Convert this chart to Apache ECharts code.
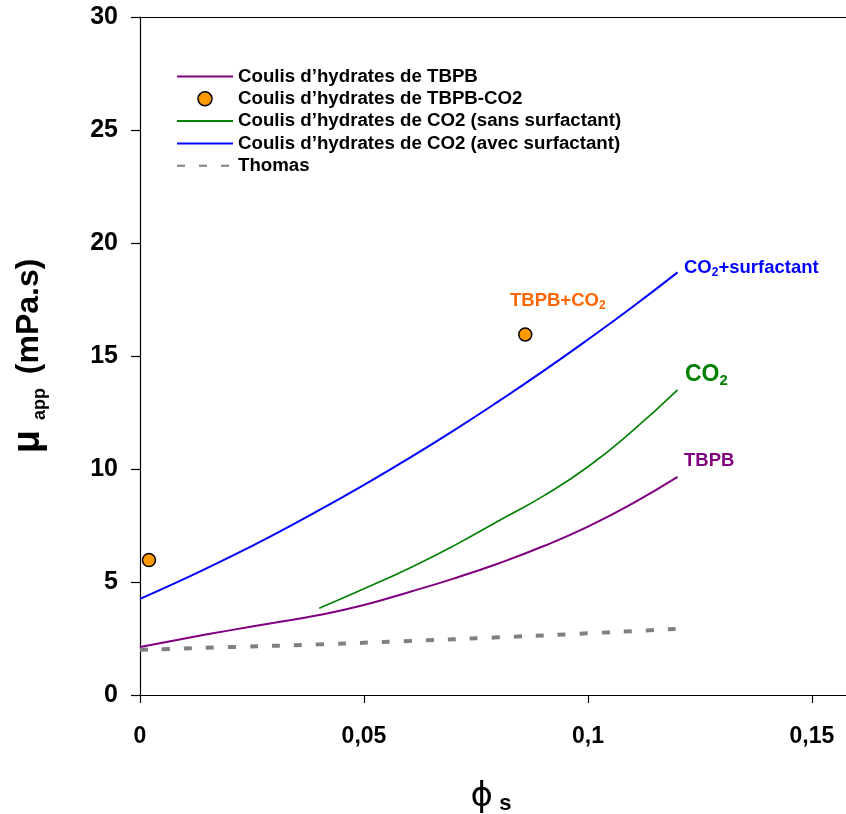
<!DOCTYPE html>
<html><head><meta charset="utf-8">
<script src="https://cdn.jsdelivr.net/npm/echarts@6/dist/echarts.min.js"></script>
<style>html,body{margin:0;padding:0;background:#fff}#c{width:846px;height:814px}</style>
</head><body><div id="c"></div>
<script>
// ---- data ----
const phi = [0, 0.01, 0.02, 0.03, 0.04, 0.05, 0.06, 0.07, 0.08, 0.09, 0.10, 0.11, 0.12];
const tbpb = [2.12, 2.50, 2.86, 3.20, 3.54, 3.98, 4.55, 5.15, 5.82, 6.58, 7.45, 8.48, 9.65];
const phiCO2 = [0.04, 0.05, 0.06, 0.07, 0.08, 0.09, 0.10, 0.11, 0.12];
const co2 = [3.84, 4.70, 5.60, 6.60, 7.70, 8.80, 10.10, 11.70, 13.50];
const co2Surf = [4.25, 5.15, 6.10, 7.11, 8.18, 9.30, 10.47, 11.70, 12.99, 14.33, 15.73, 17.18, 18.70];
const phiThomas = [0, 0.02, 0.04, 0.06, 0.08, 0.10, 0.12];
const thomas = [2.00, 2.12, 2.24, 2.39, 2.55, 2.73, 2.93];
const tbpbCO2Phi = [0.002, 0.086];
const tbpbCO2Mu = [5.97, 15.95];
const xTicks = [0, 0.05, 0.1, 0.15];
const yTicks = [0, 5, 10, 15, 20, 25, 30];
const names = ['Coulis d’hydrates de TBPB', 'Coulis d’hydrates de TBPB-CO2',
  'Coulis d’hydrates de CO2 (sans surfactant)', 'Coulis d’hydrates de CO2 (avec surfactant)', 'Thomas'];

const zip = (xs, ys) => xs.map((x, i) => [x, ys[i]]);
const FF = "'Liberation Sans', Arial, sans-serif";
const X_MAX = 0.1576;

const chart = echarts.init(document.getElementById('c'), null, {renderer: 'canvas'});

function subLabel(main1, sub, main2, color, size, x, y) {
  return {
    type: 'text', left: x, top: y, z: 100,
    style: {
      text: '{a|' + main1 + '}{b|' + sub + '}' + (main2 ? '{a|' + main2 + '}' : ''),
      rich: {
        a: {fontFamily: FF, fontWeight: 'bold', fontSize: size, fill: color, lineHeight: size * 1.2},
        b: {fontFamily: FF, fontWeight: 'bold', fontSize: size * 0.65, fill: color, verticalAlign: 'bottom'}
      }
    }
  };
}

chart.setOption({
  animation: false,
  backgroundColor: '#fff',
  grid: {left: 140, top: 17, right: 0, bottom: 119, show: false, containLabel: false},
  xAxis: [{
    type: 'value', min: 0, max: X_MAX,
    axisLine: {lineStyle: {color: '#000', width: 1.2}},
    axisTick: {show: true, inside: false, length: 8, lineStyle: {color: '#000', width: 1.2},
      customValues: xTicks},
    axisLabel: {margin: 30, fontFamily: FF, fontWeight: 'bold', fontSize: 23, color: '#000',
      customValues: xTicks,
      formatter: v => String(Math.round(v * 100) / 100).replace('.', ',')},
    splitLine: {show: false}
  }, {
    type: 'value', min: 0, max: X_MAX, position: 'top',
    axisLine: {show: true, lineStyle: {color: '#000', width: 1.2}},
    axisTick: {show: false}, axisLabel: {show: false}, splitLine: {show: false}
  }],
  yAxis: {
    type: 'value', min: 0, max: 30, interval: 5,
    axisLine: {show: true, lineStyle: {color: '#000', width: 1.2}},
    axisTick: {show: true, inside: false, length: 9, lineStyle: {color: '#000', width: 1.2}},
    axisLabel: {margin: 22, fontFamily: FF, fontWeight: 'bold', fontSize: 25, color: '#000'},
    splitLine: {show: false}
  },
  legend: {
    orient: 'vertical', left: 176, top: 67, padding: 0, itemWidth: 56, itemHeight: 14, itemGap: 3.3,
    itemStyle: {opacity: 0},
    data: [
      {name: names[0]},
      {name: names[1], itemStyle: {opacity: 1, color: '#FF9900', borderColor: '#000', borderWidth: 1.5}},
      {name: names[2]},
      {name: names[3]},
      {name: names[4]}
    ],
    textStyle: {fontFamily: FF, fontWeight: 'bold', fontSize: 18.7, color: '#000'},
    selectedMode: false
  },
  series: [
    {name: names[0], type: 'line', data: zip(phi, tbpb), smooth: true, symbol: 'none',
      lineStyle: {color: '#800080', width: 2}, itemStyle: {color: '#800080'}, z: 3},
    {name: names[2], type: 'line', data: zip(phiCO2, co2), smooth: true, symbol: 'none',
      lineStyle: {color: '#008000', width: 1.6}, itemStyle: {color: '#008000'}, z: 3},
    {name: names[3], type: 'line', data: zip(phi, co2Surf), smooth: true, symbol: 'none',
      lineStyle: {color: '#0000FF', width: 2}, itemStyle: {color: '#0000FF'}, z: 3},
    {name: names[4], type: 'line', data: zip(phiThomas, thomas), smooth: true, symbol: 'none',
      lineStyle: {color: '#808080', width: 4, type: [8, 14]}, itemStyle: {color: '#808080'}, z: 2},
    {name: names[1], type: 'scatter', data: zip(tbpbCO2Phi, tbpbCO2Mu), symbol: 'circle', symbolSize: 13,
      itemStyle: {color: '#FF9900', borderColor: '#000', borderWidth: 1.5, opacity: 1}, z: 5}
  ],
  graphic: [
    subLabel('CO', '2', '+surfactant', '#0000FF', 18.5, 684, 258),
    subLabel('CO', '2', '', '#008000', 23, 685, 363),
    {type: 'text', left: 684, top: 451, z: 100,
      style: {text: 'TBPB', fontFamily: FF, fontWeight: 'bold', fontSize: 18.5, fill: '#800080'}},
    subLabel('TBPB+CO', '2', '', '#FF6600', 18.5, 510, 291),
    {type: 'text', x: 29, y: 356, rotation: Math.PI / 2, z: 100,
      style: {
        text: '{m|μ}{s|  app }{t| (mPa.s)}', align: 'center', verticalAlign: 'middle',
        rich: {
          m: {fontFamily: FF, fontWeight: 'bold', fontSize: 38, fill: '#000', lineHeight: 44},
          s: {fontFamily: FF, fontWeight: 'bold', fontSize: 18, fill: '#000', verticalAlign: 'bottom', padding: [0, 0, 2, 0]},
          t: {fontFamily: FF, fontWeight: 'bold', fontSize: 32, fill: '#000', lineHeight: 44}
        }
      }},
    {type: 'text', x: 491, y: 797, z: 100,
      style: {
        text: '{p|ϕ}{s| s}', align: 'center', verticalAlign: 'middle',
        rich: {
          p: {fontFamily: "'DejaVu Sans', sans-serif", fontSize: 34, fill: '#000', lineHeight: 40},
          s: {fontFamily: FF, fontWeight: 'bold', fontSize: 22, fill: '#000', verticalAlign: 'bottom', padding: [0, 0, 2, 0]}
        }
      }}
  ]
});
</script>
</body></html>
